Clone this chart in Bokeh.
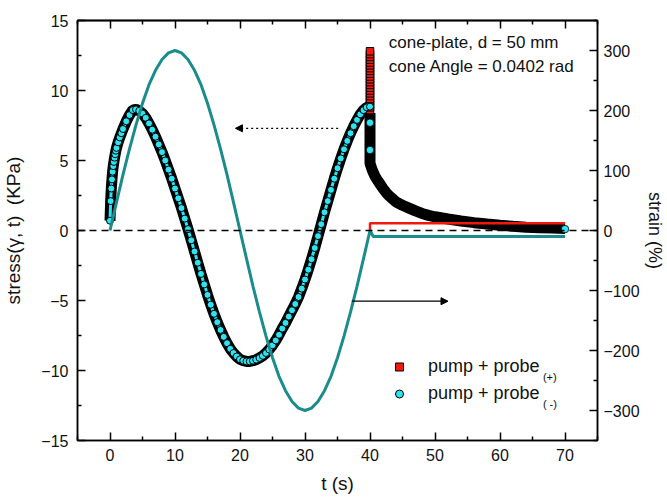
from bokeh.plotting import figure
from bokeh.models import (Range1d, LinearAxis, FixedTicker, Span, Arrow, NormalHead,
                          Label, Legend, LegendItem)
from bokeh.embed import file_html
from bokeh.resources import INLINE

# ---------------- data ----------------
# pump + probe(-) : stress during the sinusoidal pump, t in s, stress in KPa
t_minus = [0, 0.1, 0.2, 0.3, 0.4, 0.5, 0.6, 0.7, 0.8, 0.9, 1.0, 1.25, 1.5, 1.75, 2.0, 2.5, 3.0, 3.5,
           4.0, 4.5, 5.0, 5.5, 6.0, 6.5, 7.0, 7.5, 8.0, 8.5, 9.0, 9.5, 10.0, 10.5, 11.0, 11.5,
           12.0, 12.5, 13.0, 13.5, 14.0, 14.5, 15.0, 15.5, 16.0, 16.5, 17.0, 17.5, 18.0, 18.5,
           19.0, 19.5, 20.0, 20.5, 21.0, 21.5, 22.0, 22.5, 23.0, 23.5, 24.0, 24.5, 25.0, 25.5,
           26.0, 26.5, 27.0, 27.5, 28.0, 28.5, 29.0, 29.5, 30.0, 30.5, 31.0, 31.5, 32.0, 32.5,
           33.0, 33.5, 34.0, 34.5, 35.0, 35.5, 36.0, 36.5, 37.0, 37.5, 38.0, 38.5, 39.0, 39.5, 40.0]
stress_minus = [0.7, 2.1, 3.0, 3.65, 4.2, 4.6, 4.9, 5.2, 5.45, 5.7, 5.9, 6.3, 6.65, 6.95, 7.25, 7.8, 8.25, 8.6,
                8.65, 8.55, 8.35, 8.05, 7.65, 7.2, 6.7, 6.15, 5.6, 5.0, 4.35, 3.7, 3.0, 2.3, 1.6, 0.85,
                0.1, -0.7, -1.5, -2.3, -3.1, -3.85, -4.6, -5.3, -5.95, -6.55, -7.1, -7.6, -8.05, -8.45,
                -8.75, -9.0, -9.2, -9.3, -9.35, -9.35, -9.3, -9.22, -9.1, -8.95, -8.75, -8.5, -8.2, -7.85,
                -7.45, -7.0, -6.6, -6.15, -5.7, -5.25, -4.75, -4.15, -3.5, -2.8, -2.05, -1.25, -0.4, 0.45,
                1.3, 2.1, 2.9, 3.7, 4.45, 5.15, 5.8, 6.4, 6.95, 7.45, 7.9, 8.3, 8.6, 8.8, 8.85]
# pump + probe(-) : probe points after the pump
t_minus_probe = [40, 40, 70]
stress_minus_probe = [7.7, 5.75, 0.1]

# pump + probe(+) : overshoot at t = 40 s
t_plus_spike = [40] * 22
stress_plus_spike = [8.6, 8.8, 9.0, 9.2, 9.4, 9.6, 9.8, 10.0, 10.2, 10.4, 10.6, 10.8, 11.0,
                     11.2, 11.4, 11.6, 11.8, 12.0, 12.2, 12.4, 12.6, 12.8]
# relaxation after t = 40 s
t_decay = [40, 40, 40, 40, 40, 40, 40, 40.25, 40.5, 40.75, 41, 41.5, 42, 42.5, 43, 43.5, 44, 45, 46,
           47, 48, 49, 50, 52, 54, 56, 58, 60, 62, 64, 66, 68, 70]
stress_decay = [8.4, 7.8, 7.2, 6.6, 6.0, 5.4, 4.8, 4.45, 4.15, 3.9, 3.7, 3.35, 3.0, 2.7, 2.45, 2.25, 2.05,
                1.8, 1.6, 1.4, 1.22, 1.08, 0.98, 0.82, 0.68, 0.56, 0.46, 0.37, 0.3, 0.24, 0.2, 0.17, 0.15]

# strain (%), right axis
t_strain_minus = [0, 1, 2, 3, 4, 5, 6, 7, 8, 9, 10, 11, 12, 13, 14, 15, 16, 17, 18, 19, 20,
                  21, 22, 23, 24, 25, 26, 27, 28, 29, 30, 31, 32, 33, 34, 35, 36, 37, 38, 39, 40, 40.5, 70]
strain_minus = [0, 47, 93, 136, 176, 212, 243, 267, 285, 296, 300, 296, 285, 267, 243, 212, 176, 136, 93, 47, 0,
                -47, -93, -136, -176, -212, -243, -267, -285, -296, -300, -296, -285, -267, -243, -212, -176,
                -136, -93, -47, 0, -10, -10]
t_strain_plus = [40, 40, 70]
strain_plus = [0, 12, 12]

x_major = [0, 10, 20, 30, 40, 50, 60, 70]
x_minor = [-5, 5, 15, 25, 35, 45, 55, 65, 75]
y_major = [-15, -10, -5, 0, 5, 10, 15]
y_minor = [-12.5, -7.5, -2.5, 2.5, 7.5, 12.5]
y2_major = [-300, -200, -100, 0, 100, 200, 300]
y2_minor = [-350, -250, -150, -50, 50, 150, 250, 350]

FONT = "Liberation Sans"
TEAL = "#1b8c8c"
CYAN = "#2ee4f2"
RED = "#ee1a12"

p = figure(width=667, height=498, x_range=Range1d(-5, 75), y_range=Range1d(-15, 15),
           output_backend="svg", toolbar_location=None,
           min_border_left=77, min_border_right=70, min_border_top=20, min_border_bottom=58)
p.grid.visible = False
p.outline_line_color = "black"
p.outline_line_width = 1.5
p.extra_y_ranges = {"strain": Range1d(-350, 350)}


def style(ax, major, minor, minor_len=4):
    ax.ticker = FixedTicker(ticks=major, minor_ticks=minor)
    ax.major_tick_in = 8
    ax.major_tick_out = 0
    ax.minor_tick_in = minor_len
    ax.minor_tick_out = 0
    ax.major_tick_line_width = 1.5
    ax.minor_tick_line_width = 1.5
    ax.axis_line_width = 1.5
    ax.major_label_text_font = FONT
    ax.major_label_text_font_size = "16px"
    ax.major_label_text_color = "#111111"
    ax.axis_label_text_font = FONT
    ax.axis_label_text_font_size = "19px"
    ax.axis_label_text_font_style = "normal"
    ax.axis_label_text_color = "#111111"


xb = p.xaxis[0]
style(xb, x_major, x_minor)
xb.axis_label = "t (s)"
xb.major_label_standoff = 8
xb.axis_label_standoff = 9

yl = p.yaxis[0]
style(yl, y_major, y_minor)
yl.axis_label = "stress(γ, t) \u00a0(KPa)"
yl.major_label_standoff = 9
yl.axis_label_standoff = 14

yr = LinearAxis(y_range_name="strain")
style(yr, y2_major, y2_minor)
yr.axis_label = "strain (%)"
yr.axis_label_text_font_size = "18px"
yr.major_label_standoff = 6
yr.axis_label_standoff = 2
p.add_layout(yr, "right")

# top frame ticks (no labels): one axis for the long ticks, one for the short ones
xt1 = LinearAxis()
style(xt1, [], x_major, minor_len=8)
xt1.major_label_standoff = 0
p.add_layout(xt1, "above")
xt2 = LinearAxis()
style(xt2, [], x_minor, minor_len=4)
xt2.major_label_standoff = 0
p.add_layout(xt2, "above")

# black dense band formed by overlapping marker outlines
p.line(t_minus, stress_minus, line_color="black", line_width=11)
p.line(t_decay, stress_decay, line_color="black", line_width=11)

r_plus = p.scatter(t_plus_spike, stress_plus_spike, marker="square", size=7.5,
                   fill_color=RED, line_color="black", line_width=1)
p.line(t_minus, stress_minus, line_color=CYAN, line_width=3)
r_minus = p.scatter(t_minus, stress_minus, marker="circle", size=7,
                    fill_color=CYAN, line_color="black", line_width=1)
p.scatter(t_minus_probe, stress_minus_probe, marker="circle", size=7.5,
          fill_color=CYAN, line_color="black", line_width=0.8)

# strain curves
p.line(t_strain_plus, strain_plus, y_range_name="strain", line_color=RED, line_width=2.5)
p.line(t_strain_minus, strain_minus, y_range_name="strain", line_color=TEAL, line_width=3)

p.add_layout(Span(location=0, dimension="width", line_color="black", line_width=1.5,
                  line_dash="7 5"))

p.add_layout(Arrow(x_start=35.1, y_start=7.3, x_end=19.3, y_end=7.3, line_color="black",
                   line_width=1.2, line_dash="2 3",
                   end=NormalHead(size=7, fill_color="black", line_color="black")))
p.add_layout(Arrow(x_start=37.2, y_start=-5.05, x_end=52.0, y_end=-5.05, line_color="black",
                   line_width=1.2,
                   end=NormalHead(size=7, fill_color="black", line_color="black")))

for txt, yy in (("cone-plate, d = 50 mm", 13.4), ("cone Angle = 0.0402 rad", 11.75)):
    p.add_layout(Label(x=42.9, y=yy, text=txt, text_font=FONT, text_font_size="17px",
                       text_baseline="middle", text_color="#111111"))

legend = Legend(items=[LegendItem(label="pump + probe", renderers=[r_plus]),
                       LegendItem(label="pump + probe", renderers=[r_minus])],
                location=(312, 33), background_fill_alpha=0, border_line_color=None,
                glyph_width=20, glyph_height=27, label_height=27, spacing=0, padding=0,
                margin=0, label_standoff=19, label_text_font=FONT, label_text_font_size="18px",
                label_text_color="#111111")
p.add_layout(legend)
for sub, yy in (("(+)", -10.45), ("( -)", -12.4)):
    p.add_layout(Label(x=66.6, y=yy, text=sub, text_font=FONT, text_font_size="11px",
                       text_baseline="middle", text_color="#111111"))

open("out.html", "w").write(file_html(p, INLINE))
